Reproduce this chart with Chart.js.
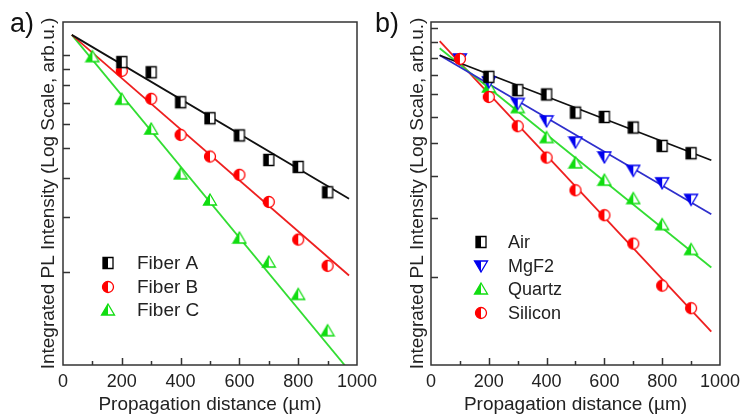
<!DOCTYPE html>
<html>
<head>
<meta charset="utf-8">
<script src="https://cdn.jsdelivr.net/npm/chart.js@4.4.1/dist/chart.umd.min.js"></script>
<style>
  html, body { margin: 0; padding: 0; background: #fff; }
  #wrap { position: relative; width: 746px; height: 418px; overflow: hidden; }
  #chartA { position: absolute; left: 0; top: 0; }
  #chartB { position: absolute; left: 373px; top: 0; }
</style>
</head>
<body>
<div id="wrap">
  <canvas id="chartA" width="392" height="418"></canvas>
  <canvas id="chartB" width="373" height="418"></canvas>
</div>
<script>
// measured data (propagation distance in µm, PL intensity in arb. units)
const distances = [100, 200, 300, 400, 500, 600, 700, 800, 900]
const xTicks = [0, 100, 200, 300, 400, 500, 600, 700, 800, 900, 1000]

// panel a
const fiberA = [null, 9.50, 8.81, 7.05, 6.26, 5.51, 4.59, 4.36, 3.61]
const fiberB = [null, 8.90, 7.23, 5.53, 4.71, 4.11, 3.36, 2.54, 2.09]
const fiberC = [9.90, 7.21, 5.78, 4.14, 3.41, 2.57, 2.15, 1.69, 1.29]
const fitXA = [30, 973]
const fitFiberA = [11.63, 3.44]
const fitFiberB = [11.63, 1.945]
const fitFiberC = [11.63, 0.96]
const yTicksA = [2, 3, 4, 5, 6, 7, 8, 9, 10]
const yRangeA = [1, 12.8]

// panel b
const air = [null, 7.89, 7.20, 6.99, 6.17, 5.99, 5.57, 4.91, 4.67]
const mgf2 = [8.92, 7.62, 6.57, 5.83, 5.04, 4.55, 4.15, 3.81, 3.40]
const quartz = [null, 7.36, 6.39, 5.20, 4.37, 3.88, 3.42, 2.86, 2.41]
const silicon = [8.92, 6.87, 5.62, 4.53, 3.62, 3.05, 2.51, 1.88, 1.61]
const fitXB = [30, 970]
const fitAir = [9.15, 4.45]
const fitMgF2 = [9.15, 3.07]
const fitQuartz = [9.60, 2.13]
const fitSilicon = [10.08, 1.37]
const yTicksB = [2, 3, 4, 5, 6, 7, 8, 9, 10, 11]
const yRangeB = [1.09, 11.5]

const FONT = '"Liberation Sans", Arial, sans-serif'
const TXT = '#222'

function halfMarker(shape, color) {
  const c = document.createElement('canvas')
  c.width = 16; c.height = 16
  const g = c.getContext('2d')
  const cx = 8, cy = 8
  const path = () => {
    g.beginPath()
    if (shape === 'square') g.rect(cx - 5, cy - 5.5, 10, 11)
    else if (shape === 'circle') g.arc(cx, cy, 5.5, 0, Math.PI * 2)
    else if (shape === 'up') { g.moveTo(cx, cy - 6); g.lineTo(cx + 6.5, cy + 5); g.lineTo(cx - 6.5, cy + 5); g.closePath() }
    else { g.moveTo(cx - 6.5, cy - 5); g.lineTo(cx + 6.5, cy - 5); g.lineTo(cx, cy + 6); g.closePath() }
  }
  path(); g.fillStyle = '#fff'; g.fill()
  g.save(); g.beginPath(); g.rect(0, 0, cx, 16); g.clip()
  path(); g.fillStyle = color; g.fill(); g.restore()
  g.lineWidth = 1.3; g.strokeStyle = color
  path(); g.stroke()
  return c
}

function points(vals) {
  return distances.map((d, i) => ({ x: d, y: vals[i] })).filter(p => p.y != null)
}
function fit(xs, vals) {
  return xs.map((x, i) => ({ x, y: vals[i] }))
}

function marks(label, vals, shape, color, order) {
  return { label, data: points(vals), pointStyle: halfMarker(shape, color), pointRadius: 6,
    showLine: false, order: order == null ? 1 : order, inLegend: true }
}
function fitLine(xs, vals, color) {
  return { data: fit(xs, vals), showLine: true, borderColor: color, borderWidth: 1.8,
    pointRadius: 0, order: 5, inLegend: false }
}

const framePlugin = {
  id: 'frame',
  afterDatasetsDraw(chart) {
    const { ctx, chartArea: a, scales: { x, y } } = chart
    ctx.save()
    ctx.strokeStyle = '#333'
    ctx.lineWidth = 1.5
    ctx.beginPath()
    y.ticks.forEach(t => {
      const py = Math.round(y.getPixelForValue(t.value)) + 0.5
      ctx.moveTo(a.left, py); ctx.lineTo(a.left + 7, py)
    })
    x.ticks.forEach(t => {
      if (t.value === 0 || t.value === 1000) return
      const px = Math.round(x.getPixelForValue(t.value)) + 0.5
      const len = t.value % 200 === 0 ? 7 : 4
      ctx.moveTo(px, a.bottom); ctx.lineTo(px, a.bottom - len)
    })
    ctx.stroke()
    ctx.strokeRect(a.left, a.top, a.right - a.left, a.bottom - a.top)
    ctx.restore()
  }
}

const legendPlugin = {
  id: 'inLegend',
  afterDraw(chart, args, opts) {
    const { ctx } = chart
    ctx.save()
    ctx.font = opts.fontSize + 'px ' + FONT
    ctx.fillStyle = TXT
    ctx.textBaseline = 'middle'
    let row = 0
    chart.data.datasets.forEach(ds => {
      if (!ds.inLegend) return
      const y = opts.y + row * opts.gap
      const img = ds.pointStyle
      ctx.drawImage(img, Math.round(opts.x - img.width / 2), Math.round(y - img.height / 2))
      ctx.fillText(ds.label, opts.textX, y + 1)
      row++
    })
    ctx.restore()
  }
}

const panelLabelPlugin = {
  id: 'panelLabel',
  afterDraw(chart, args, opts) {
    const { ctx } = chart
    ctx.save()
    ctx.font = '27px ' + FONT
    ctx.fillStyle = '#111'
    ctx.textBaseline = 'alphabetic'
    ctx.fillText(opts.text, opts.x, 32)
    ctx.restore()
  }
}

function makeChart(id, datasets, cfg) {
  return new Chart(document.getElementById(id), {
    type: 'scatter',
    data: { datasets },
    options: {
      responsive: false,
      devicePixelRatio: 1,
      animation: false,
      layout: { padding: { top: 22, right: cfg.padRight, left: 0, bottom: 0 } },
      plugins: {
        legend: { display: false },
        tooltip: { enabled: false },
        inLegend: cfg.legend,
        panelLabel: { text: cfg.label, x: cfg.labelX }
      },
      scales: {
        x: {
          type: 'linear', min: 0, max: 1000,
          afterBuildTicks: s => { s.ticks = xTicks.map(v => ({ value: v })) },
          ticks: { autoSkip: false, maxRotation: 0, padding: 6, color: TXT,
            font: { size: 18, family: FONT }, callback: v => (v % 200 === 0 ? String(v) : '') },
          grid: { display: false, drawTicks: false },
          border: { display: false },
          title: { display: true, text: 'Propagation distance (µm)', color: TXT,
            font: { size: 19, family: FONT }, padding: { top: 0, bottom: 2 } },
          afterFit: s => { s.height = 53 }
        },
        y: {
          type: 'logarithmic', min: cfg.yRange[0], max: cfg.yRange[1],
          afterBuildTicks: s => { s.ticks = cfg.yTicks.map(v => ({ value: v })) },
          ticks: { display: false },
          grid: { display: false, drawTicks: false },
          border: { display: false },
          title: { display: true, text: 'Integrated PL Intensity (Log Scale, arb.u.)', color: TXT,
            font: { size: 19, family: FONT }, padding: { top: cfg.titlePad, bottom: 0 } },
          afterFit: s => { s.width = cfg.yWidth }
        }
      }
    },
    plugins: [framePlugin, legendPlugin, panelLabelPlugin]
  })
}

makeChart('chartA', [
  marks('Fiber A', fiberA, 'square', '#000'),
  marks('Fiber B', fiberB, 'circle', '#ff0000'),
  marks('Fiber C', fiberC, 'up', '#11dd11'),
  fitLine(fitXA, fitFiberA, '#111'),
  fitLine(fitXA, fitFiberB, '#ee2020'),
  fitLine(fitXA, fitFiberC, '#33dd33')
], {
  padRight: 35, yWidth: 63, titlePad: 37, yRange: yRangeA, yTicks: yTicksA,
  label: 'a)', labelX: 10,
  legend: { x: 108, textX: 137, y: 263, gap: 23.5, fontSize: 19 }
})

makeChart('chartB', [
  marks('Air', air, 'square', '#000'),
  marks('MgF2', mgf2, 'down', '#0000ee'),
  marks('Quartz', quartz, 'up', '#11dd11'),
  marks('Silicon', silicon, 'circle', '#ff0000', 0),
  fitLine(fitXB, fitAir, '#111'),
  fitLine(fitXB, fitMgF2, '#2f2fcc'),
  fitLine(fitXB, fitQuartz, '#33dd33'),
  fitLine(fitXB, fitSilicon, '#ee2020')
], {
  padRight: 21, yWidth: 58, titlePad: 33, yRange: yRangeB, yTicks: yTicksB,
  label: 'b)', labelX: 2,
  legend: { x: 108, textX: 135, y: 242.3, gap: 23.5, fontSize: 18 }
})
</script>
</body>
</html>
